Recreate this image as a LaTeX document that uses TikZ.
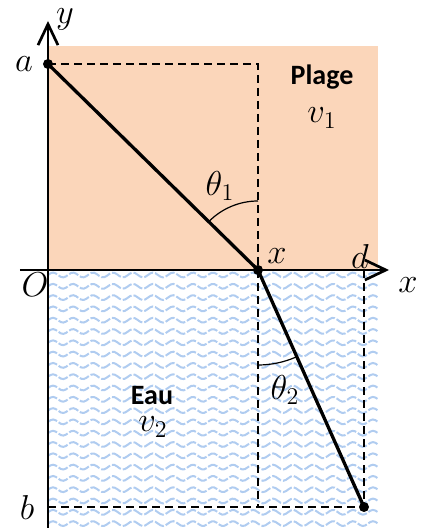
\documentclass[tikz,border=0pt]{standalone}
\usepackage{fontspec}
\newfontfamily\regionfont{Carlito}
\usetikzlibrary{arrows.meta,positioning,calc}
\definecolor{plagecol}{RGB}{251,214,186}
\definecolor{wavecol}{RGB}{176,204,240}
\tikzset{
  axis/.style={line width=1.35pt, -{Straight Barb[length=10.5pt,width=10pt,line width=1.35pt]}},
  ray/.style={line width=1.65pt, line join=round},
  guide/.style={line width=0.75pt, dash pattern=on 4pt off 2.5pt},
  dot/.style={circle, fill=black, inner sep=0pt, minimum size=5pt},
  anglearc/.style={line width=0.6pt},
  wave/.style={wavecol, line width=1pt, dash pattern=on 5pt off 1pt},
  lbl/.style={font=\fontsize{17}{19}\selectfont, inner sep=0pt},
  region/.style={font=\regionfont\bfseries\fontsize{14}{16}\selectfont, inner sep=0pt},
}
\begin{document}
\begin{tikzpicture}[x=0.5pt, y=0.5pt]
  \useasboundingbox (-48,-258) rectangle (372,270);
  % sand and water
  \fill[plagecol] (0,0) rectangle (330,224);
  \begin{scope}
    \clip (0,0) rectangle (330,-258);
    \foreach \row in {-5,-16.3,...,-260}
      \draw[wave] plot[domain=0:330, samples=130] (\x,{\row+2.4*sin(18*\x)});
  \end{scope}

  \coordinate (O) at (0,0);
  \node[dot] (a) at (0,206) {};
  \node[dot] (xp) at (210,0) {};
  \node[dot] (b) at (316,-237) {};
  \coordinate (d) at (316,0);
  \coordinate (ta) at (210,206);
  \coordinate (xb) at (210,-237);
  \coordinate (bl) at (0,-237);

  \draw[guide] (a.center) -- (ta) -- (xb);
  \draw[guide] (bl) -- (b.center);
  \draw[guide] (d) -- (b.center);

  \draw[axis] (-28,0) -- (341,0);
  \draw[axis] (0,-258) -- (0,249);

  \draw[ray] (a.center) -- (xp.center) -- (b.center);
  \draw[anglearc] ($(xp)+(0,69)$) arc[start angle=90, end angle=135.5, radius=69];
  \draw[anglearc] ($(xp)+(0,-95)$) arc[start angle=-90, end angle=-65.9, radius=95];

  \node[lbl] (alab) at (-24,206) {$a$};
  \node[lbl] (blab) at (-21,-237) {$b$};
  \node[lbl] (olab) at (-13,-15) {$O$};
  \node[lbl] (ylab) at (17,251) {$y$};
  \node[lbl] (xlab) at (360,-15) {$x$};
  \node[lbl] (dlab) at (312,13) {$d$};
  \node[lbl] (xplab) at (229,14) {$x$};
  \node[lbl] (t1) at (172,84) {$\theta_1$};
  \node[lbl] (t2) at (237,-120) {$\theta_2$};
  \node[region] (plage) at (274,193) {Plage};
  \node[lbl] (v1) at (274,152) {$v_1$};
  \node[region] (eau) at (104,-126) {Eau};
  \node[lbl] (v2) at (105,-157) {$v_2$};
\end{tikzpicture}
\end{document}
